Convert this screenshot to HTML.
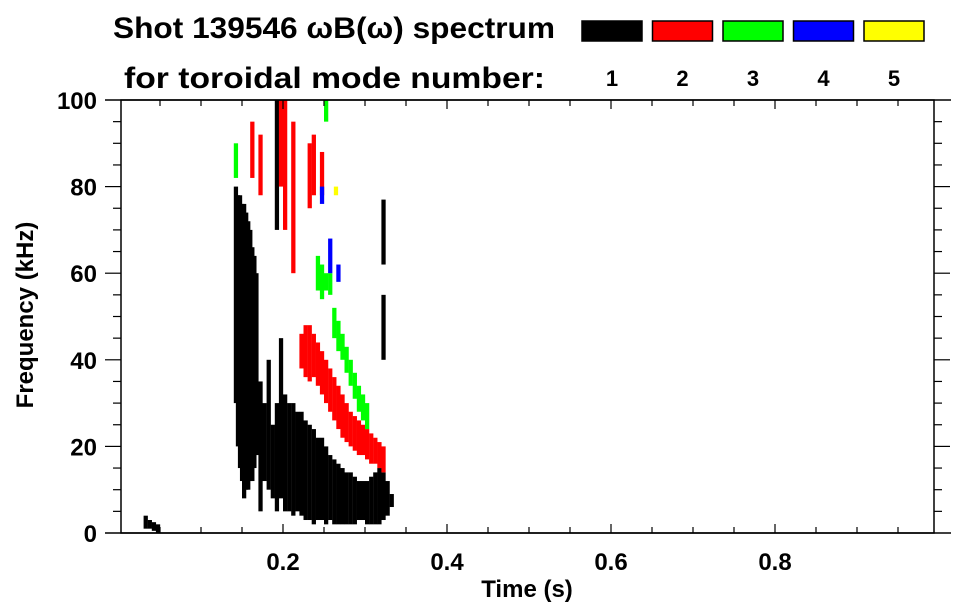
<!DOCTYPE html>
<html><head><meta charset="utf-8"><style>
body{margin:0;background:#fff;}
svg{display:block;font-family:"Liberation Sans",sans-serif;font-weight:bold;}
</style></head><body>
<svg id="chart" width="963" height="615" viewBox="0 0 963 615" xmlns="http://www.w3.org/2000/svg">
<g id="marks"></g>
<g id="axes"></g>
<text x="113" y="38" font-size="30" textLength="442" lengthAdjust="spacingAndGlyphs">Shot 139546 ωB(ω) spectrum</text>
<text x="124" y="88" font-size="30" textLength="421" lengthAdjust="spacingAndGlyphs">for toroidal mode number:</text>
<g id="legend"></g>
<text x="527" y="597" font-size="24" text-anchor="middle">Time (s)</text>
<text transform="translate(33,315) rotate(-90)" font-size="24" text-anchor="middle">Frequency (kHz)</text>
</svg>
<script>
const modeLabels=["1","2","3","4","5"];
const modeColors=["#000000","#ff0000","#00ff00","#0000ff","#ffff00"];
const xTickLabels=["0.2","0.4","0.6","0.8"];
const xTickValues=[0.2,0.4,0.6,0.8];
const yTickLabels=["0","20","40","60","80","100"];
const yTickValues=[0,20,40,60,80,100];
// patches: [time, fLow, fHigh]
const mode1=[[0.03,1,4],[0.035,1,3],[0.04,0.5,2.5],[0.045,0,2],[0.14,30,80],[0.1425,20,78],[0.145,15,78],[0.1475,12,76],[0.15,8,76],[0.1525,10,74],[0.155,10,72],[0.1575,12,70],[0.16,12,66],[0.1625,15,64],[0.165,18,60],[0.17,5,35],[0.175,12,30],[0.18,10,40],[0.185,8,25],[0.19,70,100],[0.19,5,30],[0.195,8,45],
[0.2,5,32],[0.205,5,30],[0.21,4,30],[0.215,5,28],[0.22,4,28],[0.225,3,26],[0.23,3,25],[0.235,2,24],[0.24,3,22],[0.245,3,22],[0.25,2,20],[0.255,3,18],[0.26,2,17],[0.265,2,16],[0.27,2,15],[0.275,2,14],[0.28,2,14],[0.285,2,13],[0.29,3,12],[0.295,3,12],[0.3,2,12],[0.305,2,13],[0.31,2,14],[0.315,2,15],[0.32,3,14],[0.325,4,12],[0.33,6,9],[0.32,62,77],[0.32,40,55]];
const mode2=[[0.16,82,95],[0.17,78,92],[0.195,80,100],[0.2,70,100],[0.21,60,95],[0.23,75,90],[0.235,78,92],[0.245,78,88],[0.22,38,46],[0.225,36,48],[0.23,35,48],[0.235,36,46],[0.24,34,44],[0.245,32,42],[0.25,30,40],[0.255,28,38],[0.26,26,36],[0.265,24,34],[0.27,22,32],[0.275,21,30],[0.28,20,28],[0.285,19,27],[0.29,18,26],[0.295,18,25],[0.3,17,24],[0.305,16,23],[0.31,16,22],[0.315,15,21],[0.32,14,20]];
const mode3=[[0.25,95,100],[0.14,82,90],[0.24,56,64],[0.245,54,62],[0.25,56,60],[0.255,55,60],[0.26,45,52],[0.265,42,49],[0.27,40,46],[0.275,37,43],[0.28,34,40],[0.285,31,37],[0.29,28,34],[0.295,26,32],[0.3,24,30]];
const mode4=[[0.255,60,68],[0.265,58,62],[0.245,76,80]];
const mode5=[[0.262,78,80]];
const modes=[mode1,mode2,mode3,mode4,mode5];

const L=121,R=934,T=100,B=533;
const xs=t=>119+820*t;
const ys=f=>B-(B-T)*f/100;
const NS="http://www.w3.org/2000/svg";
function mk(tag,attrs,parent){const e=document.createElementNS(NS,tag);for(const k in attrs)e.setAttribute(k,attrs[k]);parent.appendChild(e);return e;}
const marks=document.getElementById('marks');
modes.forEach((m,i)=>{m.forEach(p=>{
  const r=mk('rect',{x:xs(p[0]),y:ys(p[2]),width:820*0.0052,height:ys(p[1])-ys(p[2]),fill:modeColors[i]},marks);
  
  
});});
const ax=document.getElementById('axes');
mk('rect',{x:L,y:T,width:R-L,height:B-T,fill:'none',stroke:'#000','stroke-width':1.5},ax);
mk('line',{x1:105,y1:T,x2:951,y2:T,stroke:'#000','stroke-width':1.5},ax);
mk('line',{x1:105,y1:B,x2:951,y2:B,stroke:'#000','stroke-width':1.5},ax);
for(let k=1;k<20;k++){const t=k*0.05;const x=xs(t);if(x<=L||x>=R)continue;const len=(k%4==0)?9:6;
  mk('line',{x1:x,y1:B,x2:x,y2:B-len,stroke:'#000','stroke-width':1.2},ax);
  mk('line',{x1:x,y1:T,x2:x,y2:T+len,stroke:'#000','stroke-width':1.2},ax);}
for(let f=5;f<100;f+=5){const y=ys(f);const len=(f%20==0)?16:8;
  mk('line',{x1:L,y1:y,x2:L-len,y2:y,stroke:'#000','stroke-width':1.2},ax);
  mk('line',{x1:R,y1:y,x2:R+len,y2:y,stroke:'#000','stroke-width':1.2},ax);}
xTickValues.forEach((v,i)=>{const t=mk('text',{x:xs(v),y:570,'font-size':24,'text-anchor':'middle'},ax);t.textContent=xTickLabels[i];
  });
yTickValues.forEach((v,i)=>{const t=mk('text',{x:97,y:ys(v)+9,'font-size':24,'text-anchor':'end'},ax);t.textContent=yTickLabels[i];
  });
const lg=document.getElementById('legend');
modeLabels.forEach((lab,i)=>{const x=582+70.5*i;
  const r=mk('rect',{x:x,y:21,width:60,height:20,fill:modeColors[i],stroke:'#000','stroke-width':1.5},lg);
  
  const t=mk('text',{x:x+30,y:86,'font-size':22,'text-anchor':'middle'},lg);t.textContent=lab;
  });
</script>
</body></html>
